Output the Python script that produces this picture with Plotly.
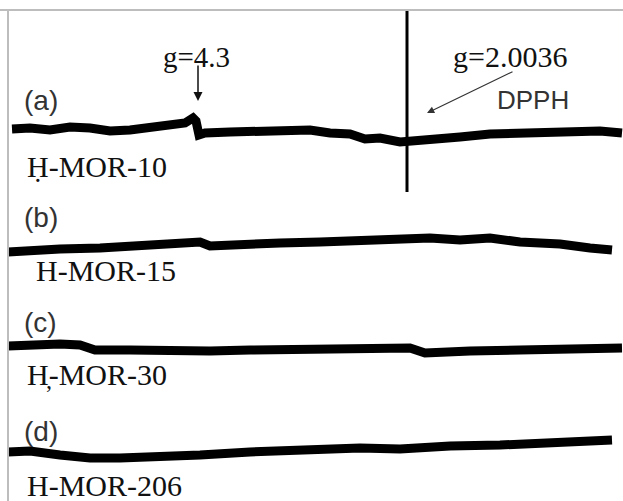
import plotly.graph_objects as go

# Field positions (arbitrary units) and read-off signal positions for each spectrum
field_a = [12, 30, 50, 70, 90, 110, 130, 150, 170, 185, 193, 196, 199, 205, 230, 260, 290, 310, 330, 350, 365, 380, 400, 420, 440, 460, 490, 520, 550, 580, 600, 622]
sig_a = [129, 128, 130, 127, 128, 131, 130, 127, 126, 123, 118, 121, 135, 133, 132, 131, 131, 130, 133, 134, 139, 138, 142, 141, 139, 137, 134, 133, 133, 133, 131, 133]

field_b = [8, 30, 60, 100, 150, 180, 200, 210, 240, 280, 320, 360, 400, 430, 460, 490, 520, 560, 590, 612]
sig_b = [252, 250, 249, 248, 246, 244, 242, 246, 244, 243, 242, 241, 240, 238, 240, 238, 242, 244, 248, 250]

field_c = [8, 30, 60, 80, 95, 130, 170, 210, 250, 300, 350, 390, 410, 425, 440, 470, 520, 570, 622]
sig_c = [346, 345, 344, 345, 350, 350, 351, 351, 350, 350, 349, 349, 348, 353, 353, 351, 350, 349, 348]

field_d = [8, 30, 60, 90, 120, 160, 200, 250, 290, 330, 360, 400, 420, 450, 500, 540, 580, 612]
sig_d = [452, 451, 455, 458, 458, 457, 455, 452, 450, 449, 448, 449, 447, 446, 445, 444, 442, 440]

panel_tags = ["(a)", "(b)", "(c)", "(d)"]
sample_names = ["Ḥ-MOR-10", "H-MOR-15", "H̦-MOR-30", "H-MOR-206"]

fig = go.Figure()
for fx, sy in [(field_a, sig_a), (field_b, sig_b), (field_c, sig_c), (field_d, sig_d)]:
    fig.add_trace(go.Scatter(x=fx, y=sy, mode="lines",
                             line=dict(color="black", width=9), showlegend=False,
                             hoverinfo="skip"))

# DPPH marker line
fig.add_trace(go.Scatter(x=[407, 407], y=[10, 192], mode="lines",
                         line=dict(color="black", width=3), showlegend=False))

# frame lines (top and left)
fig.add_shape(type="line", x0=0, x1=623, y0=10, y1=10, line=dict(color="#bdbdbd", width=2))
fig.add_shape(type="line", x0=8, x1=8, y0=10, y1=501, line=dict(color="#bdbdbd", width=2))

serif = "Liberation Serif"
sans = "Liberation Sans"

tag_pos = [(22, 100), (22, 217), (22, 322), (22, 431)]
name_pos = [(25, 166), (34, 270), (25, 375), (25, 485)]
for t, (x, y) in zip(panel_tags, tag_pos):
    fig.add_annotation(x=x, y=y, text=t, showarrow=False, xanchor="left", yanchor="middle",
                       font=dict(family=sans, size=28, color="#333"))
for t, (x, y) in zip(sample_names, name_pos):
    fig.add_annotation(x=x, y=y, text=t, showarrow=False, xanchor="left", yanchor="middle",
                       font=dict(family=serif, size=30, color="#111"))

fig.add_annotation(x=198, y=101, ax=198, ay=64, xref="x", yref="y", axref="x", ayref="y",
                   showarrow=True, arrowhead=2, arrowsize=1.2, arrowwidth=1.5, arrowcolor="#111", text="")
fig.add_annotation(x=196, y=57, text="g=4.3", showarrow=False, xanchor="center", yanchor="middle",
                   font=dict(family=serif, size=29, color="#111"))

fig.add_annotation(x=427, y=113, ax=514, ay=71, xref="x", yref="y", axref="x", ayref="y",
                   showarrow=True, arrowhead=2, arrowsize=1.2, arrowwidth=1.2, arrowcolor="#333", text="")
fig.add_annotation(x=510, y=56, text="g=2.0036", showarrow=False, xanchor="center", yanchor="middle",
                   font=dict(family=serif, size=30, color="#111"))
fig.add_annotation(x=533, y=100, text="DPPH", showarrow=False, xanchor="center", yanchor="middle",
                   font=dict(family=sans, size=26, color="#333"))

fig.update_xaxes(range=[0, 623], visible=False, fixedrange=True)
fig.update_yaxes(range=[501, 0], visible=False, fixedrange=True)
fig.update_layout(width=623, height=501, margin=dict(l=0, r=0, t=0, b=0),
                  plot_bgcolor="white", paper_bgcolor="white")

fig.write_html("out.html")
